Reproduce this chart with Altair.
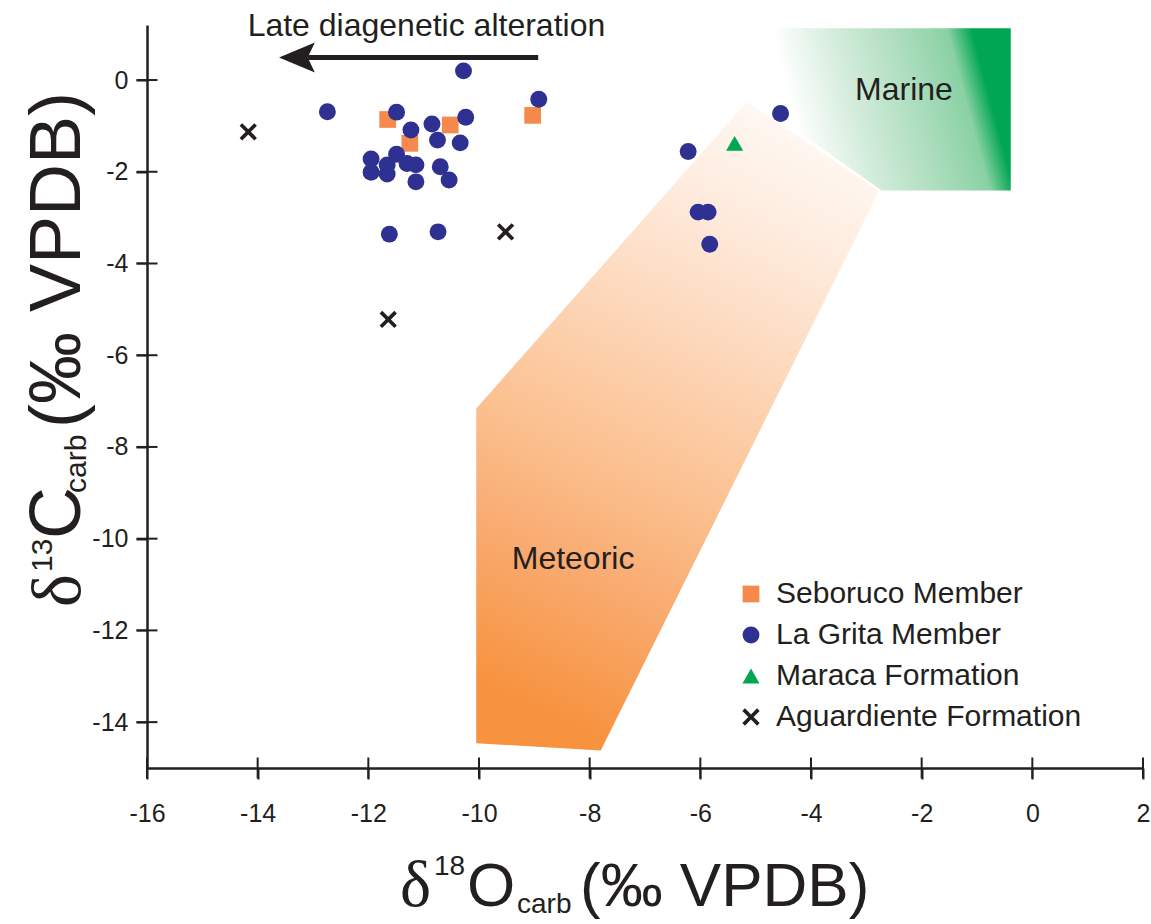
import altair as alt
import pandas as pd

INK = "#231f20"
SANS = "Liberation Sans"
SERIF = "Liberation Serif"

# Carbonate isotope data, delta18O / delta13C (per mil VPDB)
seboruco_d18o = [-11.65, -11.25, -10.52, -9.03]
seboruco_d13c = [-0.86, -1.38, -0.98, -0.77]

lagrita_d18o = [-10.28, -8.92, -12.74, -11.49, -10.24, -10.85, -11.23, -10.75, -10.34,
                -11.95, -11.49, -11.95, -11.66, -11.66, -11.30, -11.14, -10.70, -11.14,
                -10.54, -11.62, -10.74, -6.22, -4.55, -6.04, -5.86, -5.83]
lagrita_d13c = [0.20, -0.42, -0.69, -0.70, -0.81, -0.96, -1.09, -1.31, -1.37,
                -1.72, -1.62, -2.01, -2.05, -1.85, -1.82, -1.85, -1.89, -2.22,
                -2.18, -3.36, -3.31, -1.56, -0.73, -2.88, -2.88, -3.58]

maraca_d18o = [-5.38]
maraca_d13c = [-1.38]

aguardiente_d18o = [-14.17, -9.52, -11.64]
aguardiente_d13c = [-1.13, -3.31, -5.22]

# Diagenetic fields (polygon vertices)
meteoric_d18o = [-10.05, -10.05, -7.80, -2.77, -5.16]
meteoric_d13c = [-7.16, -14.46, -14.62, -2.42, -0.48]
marine_d18o = [-4.80, -0.39, -0.39, -2.72, -4.80]
marine_d13c = [1.13, 1.13, -2.41, -2.41, -0.65]

# Trend arrow and field labels
arrow_d18o = [-13.09, -8.93]
arrow_d13c = [0.49, 0.49]
head_d18o = [-13.29]
note_text = ["Late diagenetic alteration", "Marine", "Meteoric"]
note_d18o = [-10.95, -2.32, -8.30]
note_d13c = [0.96, -0.44, -10.66]

x_ticks = [-16, -14, -12, -10, -8, -6, -4, -2, 0, 2]
y_ticks = [-14, -12, -10, -8, -6, -4, -2, 0]

series = ["Seboruco Member", "La Grita Member", "Maraca Formation", "Aguardiente Formation"]
series_colors = ["#f58a4c", "#2e3192", "#00a651", INK]
X_PATH = "M-1,-0.7L-0.7,-1L0,-0.3L0.7,-1L1,-0.7L0.3,0L1,0.7L0.7,1L0,0.3L-0.7,1L-1,0.7L-0.3,0Z"
HEAD_PATH = "M-1,0L1,-0.84L0.6,0L1,0.84Z"
series_shapes = ["square", "circle", "triangle-up", X_PATH]
series_sizes = [280, 300, 300, 260]

W, H = 996, 743

xs = alt.Scale(domain=[-16, 2], nice=False, zero=False)
ys = alt.Scale(domain=[-15, 1.2], nice=False, zero=False)

axis_common = dict(
    title=None, grid=False, domainColor=INK, domainWidth=2.5, tickColor=INK,
    tickWidth=2, tickSize=11, labelFont=SANS, labelFontSize=25, labelColor=INK,
    labelFlush=False, labelOverlap=False, labelExpr="'' + datum.value",
)
x_axis = alt.Axis(values=x_ticks, labelPadding=22, **axis_common)
y_axis = alt.Axis(values=y_ticks, labelPadding=8, **axis_common)


def X(field):
    return alt.X(field, type="quantitative", scale=xs, axis=x_axis)


def Y(field):
    return alt.Y(field, type="quantitative", scale=ys, axis=y_axis)


def polygon(xv, yv, grad):
    df = pd.DataFrame({"d18o": xv, "d13c": yv, "i": list(range(len(xv)))})
    return alt.Chart(df).mark_line(
        fill=grad, strokeWidth=0, strokeOpacity=0, interpolate="linear"
    ).encode(x=X("d18o"), y=Y("d13c"), order="i:Q")


meteoric_grad = alt.Gradient(
    gradient="linear", x1=0.35, y1=1, x2=0.65, y2=0,
    stops=[
        alt.GradientStop(color="#f7923e", offset=0),
        alt.GradientStop(color="#f9ad74", offset=0.25),
        alt.GradientStop(color="#fbc08f", offset=0.4),
        alt.GradientStop(color="#fdd9bd", offset=0.65),
        alt.GradientStop(color="#feecdf", offset=0.85),
        alt.GradientStop(color="#fff7f1", offset=1),
    ],
)
marine_grad = alt.Gradient(
    gradient="linear", x1=0, y1=0.5, x2=1, y2=0.323,
    stops=[
        alt.GradientStop(color="#ffffff", offset=0),
        alt.GradientStop(color="#ffffff", offset=0.1),
        alt.GradientStop(color="#d3ecdb", offset=0.35),
        alt.GradientStop(color="#a9dcbb", offset=0.62),
        alt.GradientStop(color="#8ad1a4", offset=0.8),
        alt.GradientStop(color="#00a651", offset=0.9),
        alt.GradientStop(color="#00a651", offset=1),
    ],
)

meteoric_layer = polygon(meteoric_d18o, meteoric_d13c, meteoric_grad)
marine_layer = polygon(marine_d18o, marine_d13c, marine_grad)

# Sample points
rows = []
for name, xv, yv in [
    (series[0], seboruco_d18o, seboruco_d13c),
    (series[1], lagrita_d18o, lagrita_d13c),
    (series[2], maraca_d18o, maraca_d13c),
    (series[3], aguardiente_d18o, aguardiente_d13c),
]:
    for a, b in zip(xv, yv):
        rows.append({"d18o": a, "d13c": b, "group": name})
points = pd.DataFrame(rows)

legend = alt.Legend(
    orient="none", legendX=589, legendY=554, title=None, labelFont=SANS,
    labelFontSize=30, labelColor=INK, labelLimit=500, symbolSize=230, rowPadding=11,
    labelOffset=10, padding=0, symbolOpacity=1, symbolStrokeWidth=0,
)

points_layer = alt.Chart(points).mark_point(filled=True, opacity=1).encode(
    x=X("d18o"),
    y=Y("d13c"),
    color=alt.Color("group:N", scale=alt.Scale(domain=series, range=series_colors), legend=legend),
    shape=alt.Shape("group:N", scale=alt.Scale(domain=series, range=series_shapes), legend=legend),
    size=alt.Size("group:N", scale=alt.Scale(domain=series, range=series_sizes), legend=None),
)

# Arrow: shaft + head
shaft = pd.DataFrame({"x0": [arrow_d18o[0]], "x1": [arrow_d18o[1]], "y": [arrow_d13c[0]]})
shaft_layer = alt.Chart(shaft).mark_rule(strokeWidth=5, color=INK).encode(
    x=X("x0"), x2=alt.X2("x1"), y=Y("y")
)
head = pd.DataFrame({"d18o": head_d18o, "d13c": [arrow_d13c[0]]})
head_layer = alt.Chart(head).mark_point(
    shape=HEAD_PATH, filled=True, color=INK, size=1282, opacity=1
).encode(x=X("d18o"), y=Y("d13c"))

notes = pd.DataFrame({"d18o": note_d18o, "d13c": note_d13c, "txt": note_text})
notes_layer = alt.Chart(notes).mark_text(
    font=SANS, fontSize=32, color=INK, align="center", baseline="alphabetic"
).encode(x=X("d18o"), y=Y("d13c"), text="txt:N")

# Ticks crossing the axis lines
xt = pd.DataFrame({"v": x_ticks})
yt = pd.DataFrame({"v": y_ticks})
xtick_layer = alt.Chart(xt).mark_tick(
    orient="vertical", size=21, thickness=2, color=INK, opacity=1
).encode(x=X("v"), y=alt.value(H))
ytick_layer = alt.Chart(yt).mark_tick(
    orient="horizontal", size=21, thickness=2, color=INK, opacity=1
).encode(y=Y("v"), x=alt.value(0))


def piece(text, x, y, size, font, angle=0):
    return alt.Chart(pd.DataFrame({"t": [text]})).mark_text(
        font=font, fontSize=size, color=INK, align="left", baseline="alphabetic", angle=angle
    ).encode(x=alt.value(x), y=alt.value(y), text="t:N")


x_title = [
    piece("δ", 253, 881, 66, SERIF),
    piece("18", 287, 850, 28, SANS),
    piece("O", 320, 881, 62, SANS),
    piece("carb", 370, 888, 28, SANS),
    piece("(‰ VPDB)", 433, 881, 62, SANS),
]
y_title = [
    piece("δ", -67, 582, 70, SERIF, 270),
    piece("13", -95, 547, 30, SANS, 270),
    piece("C", -67, 514, 72, SANS, 270),
    piece("carb", -61, 468, 30, SANS, 270),
    piece("(‰ VPDB)", -67, 403, 72, SANS, 270),
]

chart = alt.layer(
    marine_layer, meteoric_layer, shaft_layer, head_layer, notes_layer,
    points_layer, xtick_layer, ytick_layer, *x_title, *y_title,
).properties(
    width=W, height=H,
    autosize=alt.AutoSizeParams(type="none"),
    padding={"left": 147, "top": 25, "right": 8, "bottom": 156},
).configure_view(strokeWidth=0)

chart.save("out.html", embed_options={"renderer": "svg", "actions": False})
